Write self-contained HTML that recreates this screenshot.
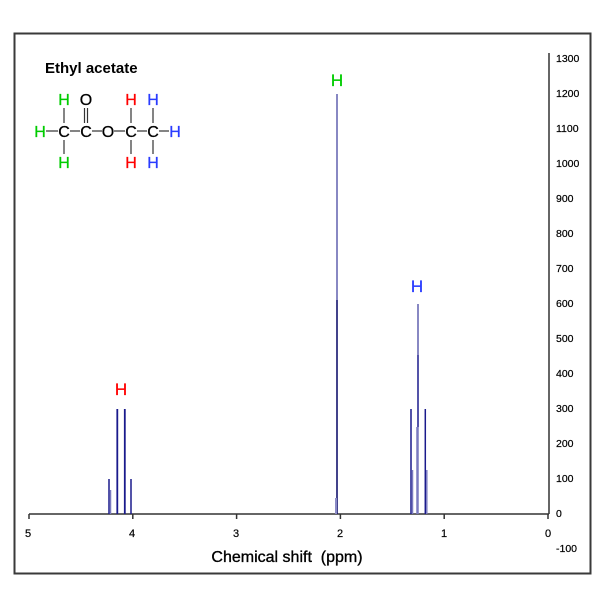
<!DOCTYPE html>
<html><head><meta charset="utf-8"><style>
html,body{margin:0;padding:0;background:#fff;}
svg{display:block;}
text{font-family:"Liberation Sans",Arial,sans-serif;}
</style></head><body>
<svg width="600" height="600" viewBox="0 0 600 600" xmlns="http://www.w3.org/2000/svg">
<rect x="0" y="0" width="600" height="600" fill="#fff"/>
<!-- frame -->
<rect x="14.5" y="33.5" width="576" height="540" fill="none" stroke="#3a3a3a" stroke-width="2"/>

<!-- title -->
<text x="45" y="73" font-size="15" font-weight="bold" fill="#000">Ethyl acetate</text>

<!-- structure -->
<g font-size="16" text-anchor="middle" stroke-width="0.3">
  <text x="64" y="105" fill="#00cc00" stroke="#00cc00">H</text>
  <text x="86" y="105" fill="#000" stroke="#000">O</text>
  <text x="131" y="105" fill="#ff0000" stroke="#ff0000">H</text>
  <text x="153" y="105" fill="#2a3cff" stroke="#2a3cff">H</text>
  <text x="40" y="137" fill="#00cc00" stroke="#00cc00">H</text>
  <text x="64" y="137" fill="#000" stroke="#000">C</text>
  <text x="86" y="137" fill="#000" stroke="#000">C</text>
  <text x="108" y="137" fill="#000" stroke="#000">O</text>
  <text x="131" y="137" fill="#000" stroke="#000">C</text>
  <text x="153" y="137" fill="#000" stroke="#000">C</text>
  <text x="175" y="137" fill="#2a3cff" stroke="#2a3cff">H</text>
  <text x="64" y="168" fill="#00cc00" stroke="#00cc00">H</text>
  <text x="131" y="168" fill="#ff0000" stroke="#ff0000">H</text>
  <text x="153" y="168" fill="#2a3cff" stroke="#2a3cff">H</text>
</g>
<g stroke="#333" stroke-width="1.2">
  <line x1="64" y1="108" x2="64" y2="123"/>
  <line x1="84.5" y1="108" x2="84.5" y2="123"/>
  <line x1="87.5" y1="108" x2="87.5" y2="123"/>
  <line x1="131" y1="108" x2="131" y2="123"/>
  <line x1="153" y1="108" x2="153" y2="123"/>
  <line x1="64" y1="140" x2="64" y2="154"/>
  <line x1="131" y1="140" x2="131" y2="154"/>
  <line x1="153" y1="140" x2="153" y2="154"/>
  <line x1="46" y1="131" x2="58" y2="131"/>
  <line x1="70" y1="131" x2="80" y2="131"/>
  <line x1="92" y1="131" x2="102" y2="131"/>
  <line x1="114" y1="131" x2="125" y2="131"/>
  <line x1="137" y1="131" x2="147" y2="131"/>
  <line x1="159" y1="131" x2="169" y2="131"/>
</g>

<!-- axes -->
<g stroke="#333" stroke-width="1.5">
  <line x1="29" y1="514" x2="549" y2="514"/>
  <line x1="549" y1="53" x2="549" y2="514"/>
  <line x1="29" y1="514" x2="29" y2="519"/>
  <line x1="132.8" y1="514" x2="132.8" y2="519"/>
  <line x1="236.6" y1="514" x2="236.6" y2="519"/>
  <line x1="340.4" y1="514" x2="340.4" y2="519"/>
  <line x1="444.2" y1="514" x2="444.2" y2="519"/>
  <line x1="548" y1="514" x2="548" y2="519"/>
</g>
<g font-size="11" fill="#000" text-anchor="middle" stroke="#000" stroke-width="0.2">
  <text x="28" y="537">5</text>
  <text x="132" y="537">4</text>
  <text x="236" y="537">3</text>
  <text x="340" y="537">2</text>
  <text x="444" y="537">1</text>
  <text x="548" y="537">0</text>
</g>
<g font-size="10.5" fill="#000" stroke="#000" stroke-width="0.2">
  <text x="556" y="62">1300</text>
  <text x="556" y="97">1200</text>
  <text x="556" y="132">1100</text>
  <text x="556" y="167">1000</text>
  <text x="556" y="202">900</text>
  <text x="556" y="237">800</text>
  <text x="556" y="272">700</text>
  <text x="556" y="307">600</text>
  <text x="556" y="342">500</text>
  <text x="556" y="377">400</text>
  <text x="556" y="412">300</text>
  <text x="556" y="447">200</text>
  <text x="556" y="482">100</text>
  <text x="556" y="517">0</text>
  <text x="556" y="552">-100</text>
</g>
<text x="287" y="562" font-size="16" text-anchor="middle" fill="#000" stroke="#000" stroke-width="0.35" xml:space="preserve">Chemical shift  (ppm)</text>

<!-- quartet ~4.12 -->
<g stroke="#1a1a8c" stroke-width="1.5">
  <line x1="109" y1="479" x2="109" y2="514"/>
  <line x1="110.5" y1="490" x2="110.5" y2="514" stroke="#7a7abf"/>
  <line x1="117.3" y1="409" x2="117.3" y2="514" stroke-width="1.8"/>
  <line x1="124.8" y1="409" x2="124.8" y2="514" stroke-width="1.8"/>
  <line x1="131" y1="479" x2="131" y2="514"/>
</g>
<!-- singlet 2.03 -->
<line x1="337" y1="94" x2="337" y2="300" stroke="#6a6ab4" stroke-width="1.6"/>
<line x1="337" y1="300" x2="337" y2="514" stroke="#14146e" stroke-width="1.6"/>
<line x1="336" y1="498" x2="336" y2="514" stroke="#8a8ac6" stroke-width="2"/>
<!-- triplet ~1.26 -->
<g stroke="#1a1a8c" stroke-width="1.5">
  <line x1="411" y1="409" x2="411" y2="514"/>
  <line x1="412.5" y1="470" x2="412.5" y2="514" stroke="#7a7abf"/>
  <line x1="418" y1="355" x2="418" y2="427"/>
  <line x1="425.3" y1="409" x2="425.3" y2="514"/>
  <line x1="426.8" y1="470" x2="426.8" y2="514" stroke="#7a7abf"/>
</g>
<line x1="418" y1="304" x2="418" y2="355" stroke="#6a6ab4" stroke-width="1.6"/>
<line x1="417.5" y1="427" x2="417.5" y2="514" stroke="#7a7abf" stroke-width="2.5"/>

<!-- H labels -->
<g font-size="17" text-anchor="middle" stroke-width="0.3">
  <text x="337" y="86" fill="#00cc00" stroke="#00cc00">H</text>
  <text x="121" y="395" fill="#ff0000" stroke="#ff0000">H</text>
  <text x="417" y="292" fill="#2a3cff" stroke="#2a3cff">H</text>
</g>
</svg>
</body></html>
